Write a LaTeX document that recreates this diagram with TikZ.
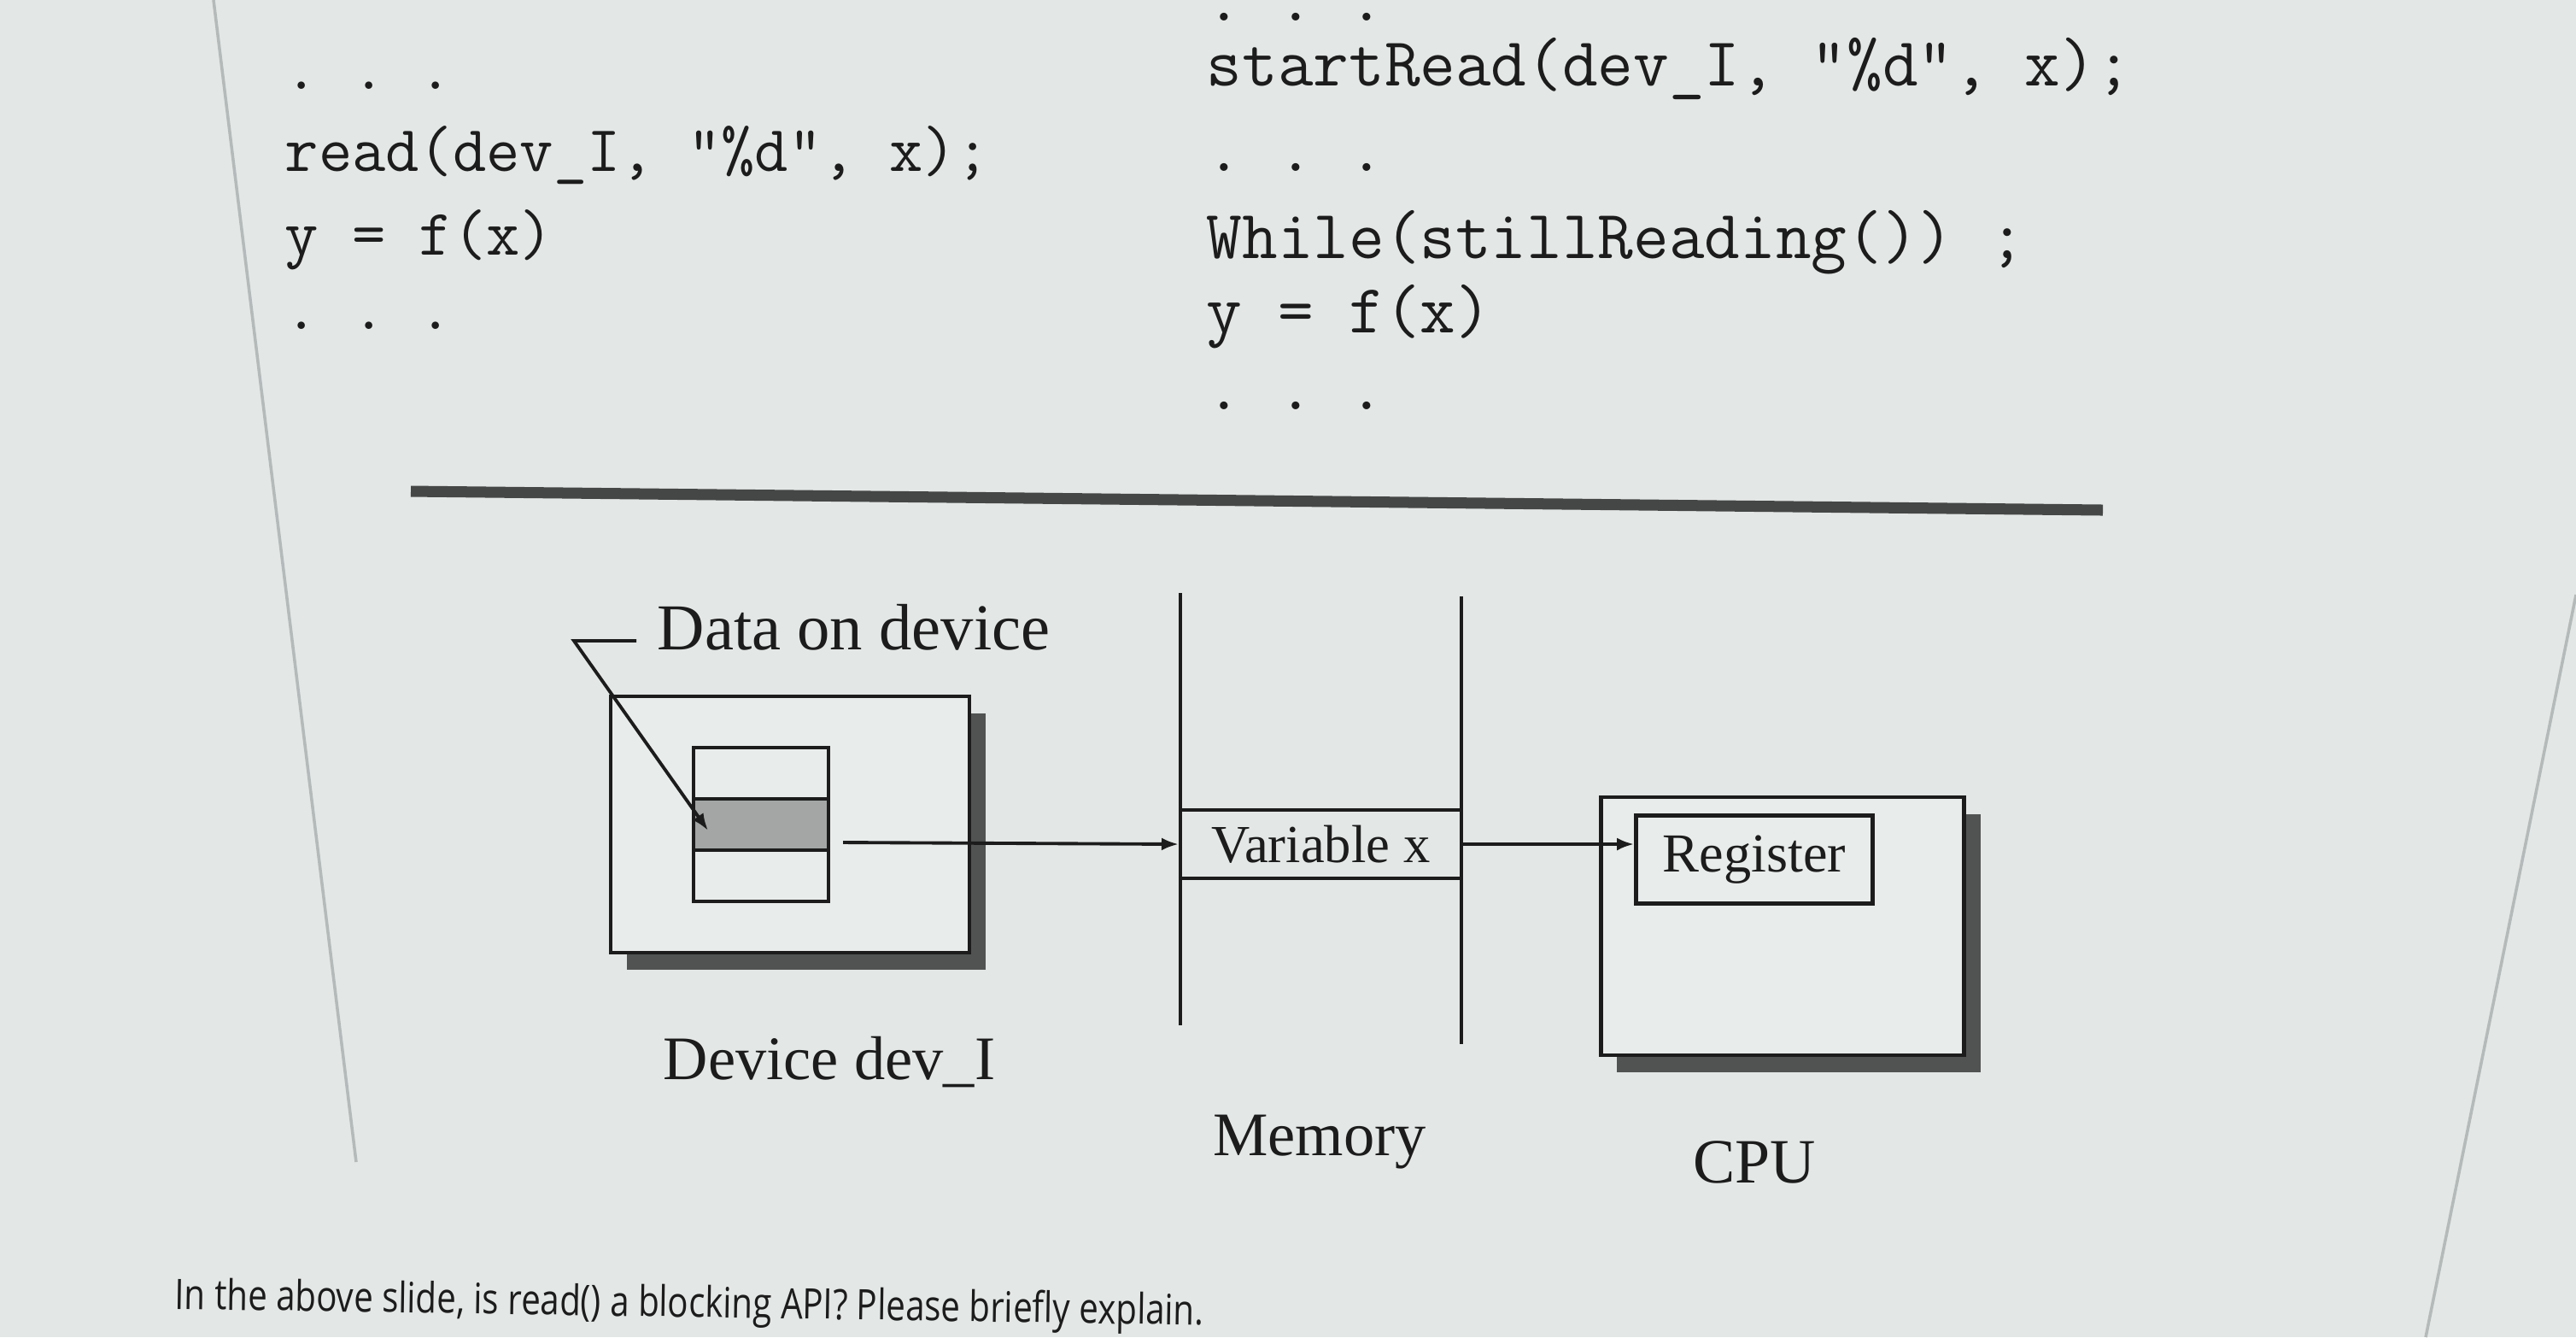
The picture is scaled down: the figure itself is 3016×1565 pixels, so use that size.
\documentclass[tikz,border=0pt]{standalone}
\usepackage{fontspec}
\setmainfont{Liberation Serif}
\newfontfamily\qfont{Open Sans}
\usetikzlibrary{arrows.meta,shadows}
\definecolor{bg}{HTML}{E3E7E6}
\definecolor{boxfill}{HTML}{E8ECEB}
\definecolor{ink}{HTML}{1C1C1C}
\definecolor{shade}{HTML}{505352}
\definecolor{cellgray}{HTML}{A3A6A5}
\definecolor{edgegray}{HTML}{B4BAB9}
\tikzset{
  codeL/.style={anchor=base west, inner sep=0pt, text=ink, font=\ttfamily\fontsize{21.7}{22}\selectfont},
  codeR/.style={anchor=base west, inner sep=0pt, text=ink, font=\ttfamily\fontsize{23}{23}\selectfont},
  lab/.style={inner sep=0pt, text=ink, font=\fontsize{21}{21}\selectfont},
  shadowbox/.style={draw=ink, line width=1.3pt, fill=boxfill, inner sep=0pt,
    drop shadow={shadow xshift=0.19cm, shadow yshift=-0.2cm, fill=shade, opacity=1}},
  plainbox/.style={draw=ink, line width=1.3pt, fill=boxfill, inner sep=0pt},
  cellbox/.style={draw=ink, line width=1.3pt, inner sep=0pt, minimum width=1.58cm, minimum height=0.6cm},
  wire/.style={draw=ink, line width=1.1pt},
  arr/.style={wire, -{Latex[length=0.2cm,width=0.15cm]}},
}
\begin{document}
\begin{tikzpicture}[x=0.01cm, y=-0.01cm]
\path[use as bounding box, fill=bg] (0,0) rectangle (3016,1565);
% slide edges
\draw[edgegray, line width=1pt] (250,0) -- (417,1360);
\draw[edgegray, line width=1pt] (3016,696) -- (2840,1565);

% code, left column
\node[codeL] (l1) at (333,104) {.\ .\ .};
\node[codeL] (l2) at (333,200) {read(dev\_I, "\%d”, x);};
\node[codeL] (l3) at (333,298) {y = f(x)};
\node[codeL] (l4) at (333,385) {.\ .\ .};

% code, right column
\node[codeR] (r0) at (1412,24) {\smash{.\ .\ .}};
\node[codeR] (r1) at (1412,100) {startRead(dev\_I, "\%d”, x);};
\node[codeR] (r2) at (1412,200) {.\ .\ .};
\node[codeR] (r3) at (1412,302) {While(stillReading()) ;};
\node[codeR] (r4) at (1412,389) {y = f(x)};
\node[codeR] (r5) at (1412,479) {.\ .\ .};

% separator rule
\coordinate (ruleA) at (481,575);
\coordinate (ruleB) at (2462,597);
\draw[color=shade!85!black, line width=3.7pt] (ruleA) -- (ruleB);

% device
\node[shadowbox, minimum width=4.2cm, minimum height=3.0cm] (dev) at (925,965) {};
\node[cellbox] (cellA) at (891,905) {};
\node[cellbox, fill=cellgray] (cellB) at (891,965) {};
\node[cellbox] (cellC) at (891,1025) {};
\node[lab, anchor=base west, font=\fontsize{21.8}{22}\selectfont] (dlab) at (769,760) {Data on device};
\coordinate (ldA) at (745,750);
\coordinate (ldB) at (672,750);
\coordinate (ldEnd) at (829,972);
\draw[arr] (ldA) -- (ldB) -- (ldEnd);
\node[lab, font=\fontsize{20.6}{21}\selectfont] (devlab) at (971,1243) {Device dev\_I};

% memory
\coordinate (mL1) at (1382,694);
\coordinate (mL2) at (1382,1200);
\coordinate (mR1) at (1711,698);
\coordinate (mR2) at (1711,1222);
\draw[wire] (mL1) -- (mL2);
\draw[wire] (mR1) -- (mR2);
\node[draw=ink, line width=1.1pt, inner sep=0pt, minimum width=3.29cm, minimum height=0.8cm,
      font=\fontsize{17.8}{18}\selectfont, text=ink] (varx) at (1546.5,988) {Variable x};
\node[lab, font=\fontsize{20.6}{21}\selectfont] (memlab) at (1545,1337) {Memory};

% arrow device -> memory
\coordinate (a1s) at (987,986);
\draw[arr] (a1s) -- (varx.west);

% CPU
\node[shadowbox, minimum width=4.25cm, minimum height=3.02cm] (cpu) at (2087,1084) {};
\node[plainbox, minimum width=2.77cm, minimum height=1.03cm,
      font=\fontsize{18.3}{18}\selectfont, text=ink] (reg) at (2054,1006) {Register};
\node[lab] (cpulab) at (2054,1360) {CPU};

% arrow memory -> register
\draw[arr] (varx.east) -- (varx.east -| reg.west);

% question
\node[anchor=base west, inner sep=0pt, text=ink, rotate=-0.9] (q) at (204,1532)
  {\resizebox{12.04cm}{\height}{\qfont\fontsize{14}{14}\selectfont In the above slide, is read() a blocking API? Please briefly explain.}};
\end{tikzpicture}
\end{document}
